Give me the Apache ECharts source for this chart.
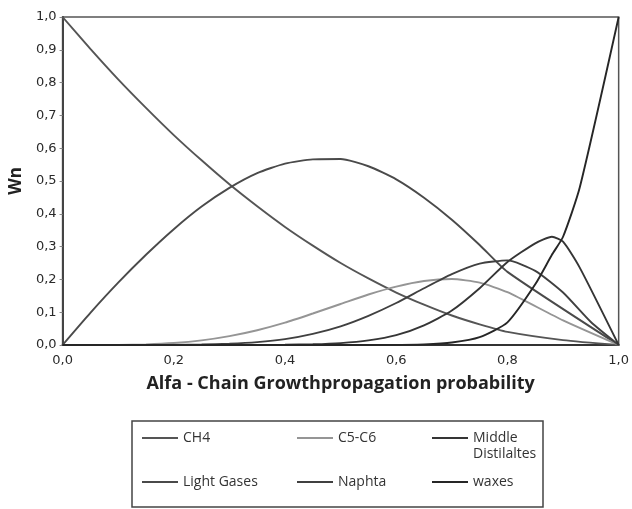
<!DOCTYPE html>
<html>
<head>
<meta charset="utf-8">
<script src="https://cdn.jsdelivr.net/npm/echarts@6/dist/echarts.min.js"></script>
<style>html,body{margin:0;padding:0;background:#fff}#c{width:632px;height:509px}</style>
</head>
<body>
<div id="c"></div>
<script>
// Alfa (chain growth probability) sample points
var alfa = [0, 0.05, 0.1, 0.15, 0.2, 0.25, 0.3, 0.35, 0.4, 0.45, 0.5, 0.55, 0.6, 0.65, 0.7, 0.75, 0.8, 0.85, 0.88, 0.9, 0.93, 0.95, 1.0];
// Wn values per product cut (null = no point read there)
var ch4        = [1, 0.903, 0.81, 0.723, 0.64, 0.563, 0.49, 0.423, 0.36, 0.303, 0.25, 0.203, 0.16, 0.123, 0.09, 0.063, 0.04, null, null, 0.015, null, null, 0];
var lightGases = [0, 0.098, 0.19, 0.275, 0.353, 0.422, 0.479, 0.524, 0.553, 0.566, 0.567, 0.545, 0.505, 0.449, 0.382, 0.305, 0.223, null, null, null, null, null, 0];
var c5c6       = [0, 0, 0.0005, 0.002, 0.006, 0.014, 0.027, 0.045, 0.068, 0.096, 0.125, 0.154, 0.178, 0.195, 0.201, 0.19, 0.161, null, null, 0.075, null, null, 0];
var naphta     = [0, 0, 0, 0, 0.0004, 0.0013, 0.0038, 0.0088, 0.018, 0.034, 0.057, 0.089, 0.128, 0.173, 0.216, 0.248, 0.258, 0.226, null, 0.16, null, 0.07, 0];
var middleDist = [0, 0, 0, 0, 0, 0, 0, 0.0002, 0.0007, 0.0022, 0.0058, 0.014, 0.03, 0.06, 0.105, 0.173, 0.253, 0.31, 0.33, 0.315, 0.236, null, 0];
var waxes      = [0, 0, 0, 0, 0, 0, 0, 0, 0, 0, 0, 0.0001, 0.0005, 0.002, 0.0076, 0.024, 0.069, 0.185, 0.275, 0.33, 0.48, null, 1.0];
// Axis tick labels
var xTicks = ['0,0', '0,2', '0,4', '0,6', '0,8', '1,0'];
var yTicks = ['0,0', '0,1', '0,2', '0,3', '0,4', '0,5', '0,6', '0,7', '0,8', '0,9', '1,0'];
var seriesNames = ['CH4', 'Light Gases', 'C5-C6', 'Naphta', 'Middle Distilaltes', 'waxes'];

function pairs(arr) {
  return alfa.map(function (a, i) { return [a, arr[i]]; });
}
var seriesData = [ch4, lightGases, c5c6, naphta, middleDist, waxes];
var colors = ['#555555', '#4a4a4a', '#959595', '#404040', '#353535', '#262626'];

var chart = echarts.init(document.getElementById('c'));
var legendFont = {fontFamily: 'Open Sans', fontSize: 14, color: '#333'};
function lg(name, left, top, fmt) {
  return {
    data: [name], left: left, top: top, icon: 'rect', itemWidth: 36, itemHeight: 2,
    itemGap: 0, padding: 0, textStyle: legendFont, selectedMode: false,
    formatter: fmt || '{name}'
  };
}
chart.setOption({
  animation: false,
  backgroundColor: '#fff',
  grid: {left: 62, right: 10, top: 17, bottom: 164, show: true, borderColor: '#555', borderWidth: 1.5},
  xAxis: {
    type: 'value', min: 0, max: 1, interval: 0.2,
    name: 'Alfa - Chain Growthpropagation probability', nameLocation: 'middle', nameGap: 30,
    nameTextStyle: {fontFamily: 'Open Sans', fontWeight: 'bold', fontSize: 18, color: '#222'},
    axisLine: {show: true, lineStyle: {color: '#333', width: 2}},
    axisTick: {show: false},
    splitLine: {show: false},
    axisLabel: {
      margin: 9, fontFamily: 'DejaVu Sans', fontSize: 13, color: '#2a2a2a',
      formatter: function (v) { return xTicks[Math.round(v / 0.2)]; }
    }
  },
  yAxis: {
    type: 'value', min: 0, max: 1, interval: 0.1,
    name: 'Wn', nameLocation: 'middle', nameGap: 37, nameRotate: 90,
    nameTextStyle: {fontFamily: 'Open Sans', fontWeight: 'bold', fontSize: 17, color: '#222'},
    axisLine: {show: true, lineStyle: {color: '#444', width: 2}},
    axisTick: {show: true, length: 3, lineStyle: {color: '#888'}},
    splitLine: {show: false},
    axisLabel: {
      margin: 6, fontFamily: 'DejaVu Sans', fontSize: 13, color: '#2a2a2a',
      formatter: function (v) { return yTicks[Math.round(v / 0.1)]; }
    }
  },
  legend: [
    lg('CH4', 142, 431),
    lg('C5-C6', 297, 431),
    lg('Middle Distilaltes', 432, 431, 'Middle'),
    lg('Light Gases', 142, 475),
    lg('Naphta', 297, 475),
    lg('waxes', 432, 475)
  ],
  graphic: [
    {type: 'rect', shape: {x: 132, y: 421, width: 411, height: 86}, style: {fill: 'none', stroke: '#444', lineWidth: 1.5}, silent: true},
    {type: 'text', left: 473, top: 447, style: {text: 'Distilaltes', fontFamily: 'Open Sans', fontSize: 14, fill: '#333'}, silent: true}
  ],
  series: seriesNames.map(function (n, i) {
    return {
      name: n, type: 'line', data: pairs(seriesData[i]), showSymbol: false, symbol: 'none',
      connectNulls: true, smooth: 0.2,
      lineStyle: {color: colors[i], width: 1.9}, itemStyle: {color: colors[i]}
    };
  })
});
</script>
</body>
</html>
